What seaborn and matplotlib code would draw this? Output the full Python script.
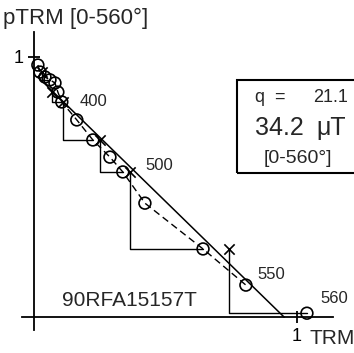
import numpy as np
import pandas as pd
import seaborn as sns
import matplotlib
matplotlib.use("Agg")
import matplotlib.pyplot as plt
from matplotlib.patches import Rectangle

sns.set_theme(style="ticks")
plt.rcParams['font.family'] = ['Liberation Sans', 'DejaVu Sans']

# ---- data (normalised Arai plot) ----
trm = [0.015, 0.023, 0.042, 0.061, 0.080, 0.091, 0.106, 0.163, 0.224, 0.289,
       0.338, 0.422, 0.643, 0.806, 1.038]
nrm = [0.969, 0.942, 0.923, 0.912, 0.900, 0.865, 0.827, 0.758, 0.681, 0.615,
       0.558, 0.438, 0.262, 0.123, 0.015]
step_labels = ["", "", "", "", "", "", "400", "", "", "", "500", "", "", "550", "560"]
check_trm = [0.030, 0.068, 0.110, 0.251, 0.365, 0.741]
check_from = [1, 5, 6, 8, 10, 12]
check_to = [3, 6, 8, 10, 12, 14]
fit_intercept = 0.938
fit_slope = -0.986
curve_last = 13
sample_name = "90RFA15157T"
q_value = "21.1"
intensity = "34.2"
temp_range = "[0-560°]"

df = pd.DataFrame({"TRM": trm, "NRM": nrm, "step": step_labels})

fig = plt.figure(figsize=(3.54, 3.53), dpi=100)
ax = fig.add_axes([0, 0, 1, 1])
ax.set_xlim(-0.129, 1.217)
ax.set_ylim(-0.138, 1.219)

# dashed Arai curve
sns.lineplot(data=df.iloc[:curve_last + 1], x="TRM", y="NRM", sort=False,
             estimator=None, color="black", lw=1.0, ls=(0, (5, 3)), ax=ax)

# best-fit line
x_end = -fit_intercept / fit_slope
fx = np.array([trm[0], x_end])
ax.plot(fx, fit_intercept + fit_slope * fx, color="black", lw=1.1)

# pTRM check triangles
for c, i, j in zip(check_trm, check_from, check_to):
    ax.plot([c, c, trm[j]], [nrm[i], nrm[j], nrm[j]], color="black", lw=1.0)

# data points
sns.scatterplot(data=df, x="TRM", y="NRM", marker="o", s=72,
                facecolor="none", edgecolor="black", linewidth=1.2, ax=ax, zorder=5)
chk = pd.DataFrame({"x": check_trm, "y": [nrm[i] for i in check_from]})
sns.scatterplot(data=chk, x="x", y="y", marker="x", s=55, color="black",
                linewidth=1.2, ax=ax, zorder=5)

# step labels
offsets = {"400": (13, -5), "500": (16, -1), "550": (8, 2), "560": (10, 5)}
for t, x, y in zip(step_labels, trm, nrm):
    if t:
        dx, dy = offsets[t]
        ax.annotate(t, (x, y), xytext=(dx, dy), textcoords="offset points",
                    fontsize=12, va="bottom", ha="left")

# axes through origin
for side in ["top", "right"]:
    ax.spines[side].set_visible(False)
ax.spines["left"].set_position(("data", 0))
ax.spines["bottom"].set_position(("data", 0))
ax.spines["left"].set_bounds(-0.05, 1.096)
ax.spines["bottom"].set_bounds(-0.046, 1.137)
for side in ["left", "bottom"]:
    ax.spines[side].set_linewidth(1.3)
    ax.spines[side].set_color("black")
ax.set_xticks([1])
ax.set_yticks([1])
ax.set_xticklabels(["1"])
ax.set_yticklabels(["1"])
ax.tick_params(direction="inout", length=9, width=1.3, labelsize=13,
               bottom=True, left=True, colors="black", pad=3)
ax.set_xlabel("")
ax.set_ylabel("")

ax.text(0.008, 0.978, "pTRM " + temp_range, transform=ax.transAxes,
        fontsize=16, ha="left", va="top")
ax.text(0.875, 0.015, "TRM", transform=ax.transAxes, fontsize=15,
        ha="left", va="bottom")
ax.text(0.175, 0.15, sample_name, transform=ax.transAxes, fontsize=15,
        ha="left", va="center")

# result box
ax.add_patch(Rectangle((0.669, 0.510), 0.40, 0.263, transform=ax.transAxes,
                       fill=False, lw=1.5, ec="black", clip_on=False))
ax.text(0.72, 0.725, "q  =", transform=ax.transAxes, fontsize=13,
        ha="left", va="center")
ax.text(0.884, 0.725, q_value, transform=ax.transAxes, fontsize=13,
        ha="left", va="center")
ax.text(0.72, 0.637, intensity, transform=ax.transAxes, fontsize=18,
        ha="left", va="center")
ax.text(0.895, 0.637, "μT", transform=ax.transAxes, fontsize=18,
        ha="left", va="center")
ax.text(0.745, 0.552, temp_range, transform=ax.transAxes, fontsize=14,
        ha="left", va="center")

fig.savefig("out.png", dpi=100)
